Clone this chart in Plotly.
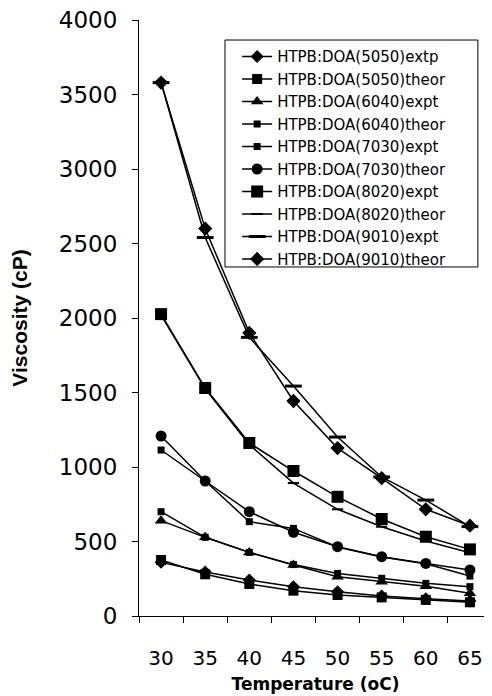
import plotly.graph_objects as go

temps = ["30", "35", "40", "45", "50", "55", "60", "65"]

s5050_expt = [360, 295, 242, 197, 163, 135, 115, 100]
s5050_theor = [376, 280, 215, 170, 141, 125, 108, 92]
s6040_expt = [640, 528, 427, 342, 264, 230, 200, 152]
s6040_theor = [700, 528, 427, 345, 286, 253, 219, 197]
s7030_expt = [1114, 906, 633, 588, 463, 396, 350, 268]
s7030_theor = [1208, 906, 700, 562, 465, 398, 353, 309]
s8020_expt = [2026, 1530, 1161, 973, 800, 651, 532, 447]
s8020_theor = [2020, 1525, 1150, 892, 716, 599, 503, 425]
s9010_expt = [3580, 2540, 1870, 1543, 1201, 933, 778, 600]
s9010_theor = [3580, 2600, 1900, 1443, 1127, 925, 716, 606]

series = [
    ("HTPB:DOA(5050)extp", s5050_expt, "diamond", 10, 0),
    ("HTPB:DOA(5050)theor", s5050_theor, "square", 10, 0),
    ("HTPB:DOA(6040)expt", s6040_expt, "triangle-up", 11, 0),
    ("HTPB:DOA(6040)theor", s6040_theor, "square", 7, 0),
    ("HTPB:DOA(7030)expt", s7030_expt, "square", 7, 0),
    ("HTPB:DOA(7030)theor", s7030_theor, "circle", 11, 0),
    ("HTPB:DOA(8020)expt", s8020_expt, "square", 12, 0),
    ("HTPB:DOA(8020)theor", s8020_theor, "line-ew", 8, 2),
    ("HTPB:DOA(9010)expt", s9010_expt, "line-ew", 12, 3),
    ("HTPB:DOA(9010)theor", s9010_theor, "diamond", 11, 0),
]

fig = go.Figure()
for name, vals, sym, size, lw in series:
    marker = dict(symbol=sym, size=size, color="black")
    if lw:
        marker["line"] = dict(color="black", width=lw)
    fig.add_trace(go.Scatter(
        x=temps, y=vals, name=name, mode="lines+markers",
        line=dict(color="black", width=1.5),
        marker=marker,
    ))

fig.update_layout(
    width=484, height=688,
    margin=dict(l=131, r=0, t=12, b=80, autoexpand=False),
    paper_bgcolor="white", plot_bgcolor="white",
    showlegend=True,
    legend=dict(
        x=0.278, y=0.966, xanchor="left", yanchor="top",
        borderwidth=0, bgcolor="rgba(0,0,0,0)",
        font=dict(family="DejaVu Sans", size=15, color="black"),
        tracegroupgap=0,
    ),
    shapes=[dict(
        type="rect", xref="paper", yref="paper",
        x0=0.2436, x1=0.960, y0=0.5856, y1=0.9664,
        line=dict(color="black", width=1), fillcolor="rgba(0,0,0,0)",
    )],
    font=dict(family="DejaVu Sans", color="black"),
)

fig.update_xaxes(
    type="category", range=[-0.5, 7.5], automargin=False,
    showline=True, linecolor="black", linewidth=1,
    ticks="outside", ticklen=6, tickcolor="black", tickson="boundaries",
    tickfont=dict(family="DejaVu Sans", size=20, color="black"),
    ticklabelstandoff=24,
    showgrid=False, zeroline=False,
    title=dict(text="Temperature (oC)", standoff=9,
               font=dict(family="DejaVu Sans", size=17, color="black", weight="bold")),
)

fig.update_yaxes(
    range=[0, 4000], tickvals=[0, 500, 1000, 1500, 2000, 2500, 3000, 3500, 4000],
    automargin=False, ticklabeloverflow="allow",
    showline=True, linecolor="black", linewidth=1,
    ticks="outside", ticklen=6, tickcolor="black",
    tickfont=dict(family="DejaVu Sans", size=23, color="black"),
    ticklabelstandoff=10,
    showgrid=False, zeroline=False,
    title=dict(text="Viscosity (cP)", standoff=30,
               font=dict(family="Liberation Sans", size=21, color="black", weight="bold")),
)

fig.write_html("out.html")
